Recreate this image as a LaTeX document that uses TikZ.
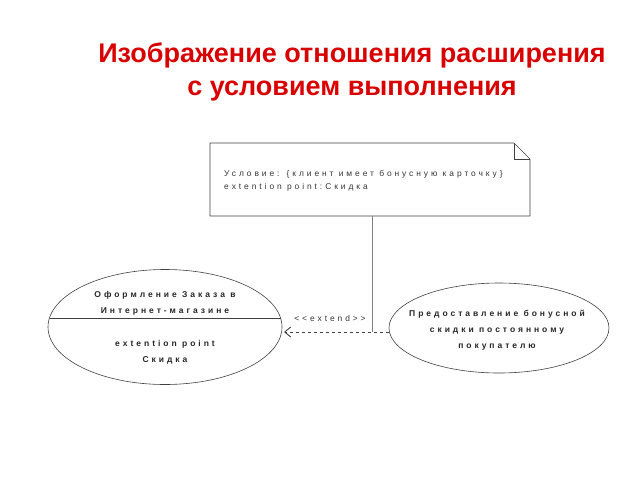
\documentclass[tikz,border=0pt]{standalone}
\usepackage{fontspec}
\setmainfont{Liberation Sans}
\newfontfamily\spaced[LetterSpace=35]{Liberation Sans}
\usetikzlibrary{arrows.meta,shapes.geometric}
\begin{document}
\begin{tikzpicture}[x=1pt,y=-1pt,
  lbl/.style={font=\spaced\bfseries\fontsize{8.5}{16}\selectfont, text=black!85, align=center, inner sep=0pt},
  nlbl/.style={font=\spaced\fontsize{8.4}{13}\selectfont, text=black!80, align=left, inner sep=0pt},
  ln/.style={draw=black!75, line width=0.6pt}]
\useasboundingbox (0,0) rectangle (640,480);
\node[font=\bfseries\fontsize{27}{33}\selectfont, text=red!85!black, align=center] (title) at (352,72)
  {Изображение отношения расширения\\с условием выполнения};
\draw[ln] (210,143) -- (514,143) -- (530,159) -- (530,216) -- (210,216) -- cycle;
\draw[ln] (514,143) -- (514,159) -- (530,159);
\node[nlbl, anchor=west] (note) at (224,181) {Условие: \{клиент имеет бонусную карточку\}\\extention point:Скидка};
\node[ln, ellipse, minimum width=234pt, minimum height=115pt, inner sep=0pt] (L) at (165,327) {};
\draw[ln] (49.5,318) -- (280.5,318);
\node[lbl] (lt) at (165,303) {Оформление Заказа в\\Интернет-магазине};
\node[lbl] (lb) at (165,352) {extention point\\Скидка};
\node[ln, ellipse, minimum width=220pt, minimum height=90pt, inner sep=0pt] (R) at (499,328) {};
\node[lbl] (rt) at (497,330) {Предоставление бонусной\\скидки постоянному\\покупателю};
\coordinate (j) at (372,332);
\draw[ln, dashed, line width=0.9pt, -{Straight Barb[length=6pt,width=10pt]}] (389,332) -- (284,332);
\draw[draw=black!50, line width=0.5pt] (372,216) -- (j);
\node[nlbl] (ext) at (330,318) {<<extend>>};
\end{tikzpicture}
\end{document}
